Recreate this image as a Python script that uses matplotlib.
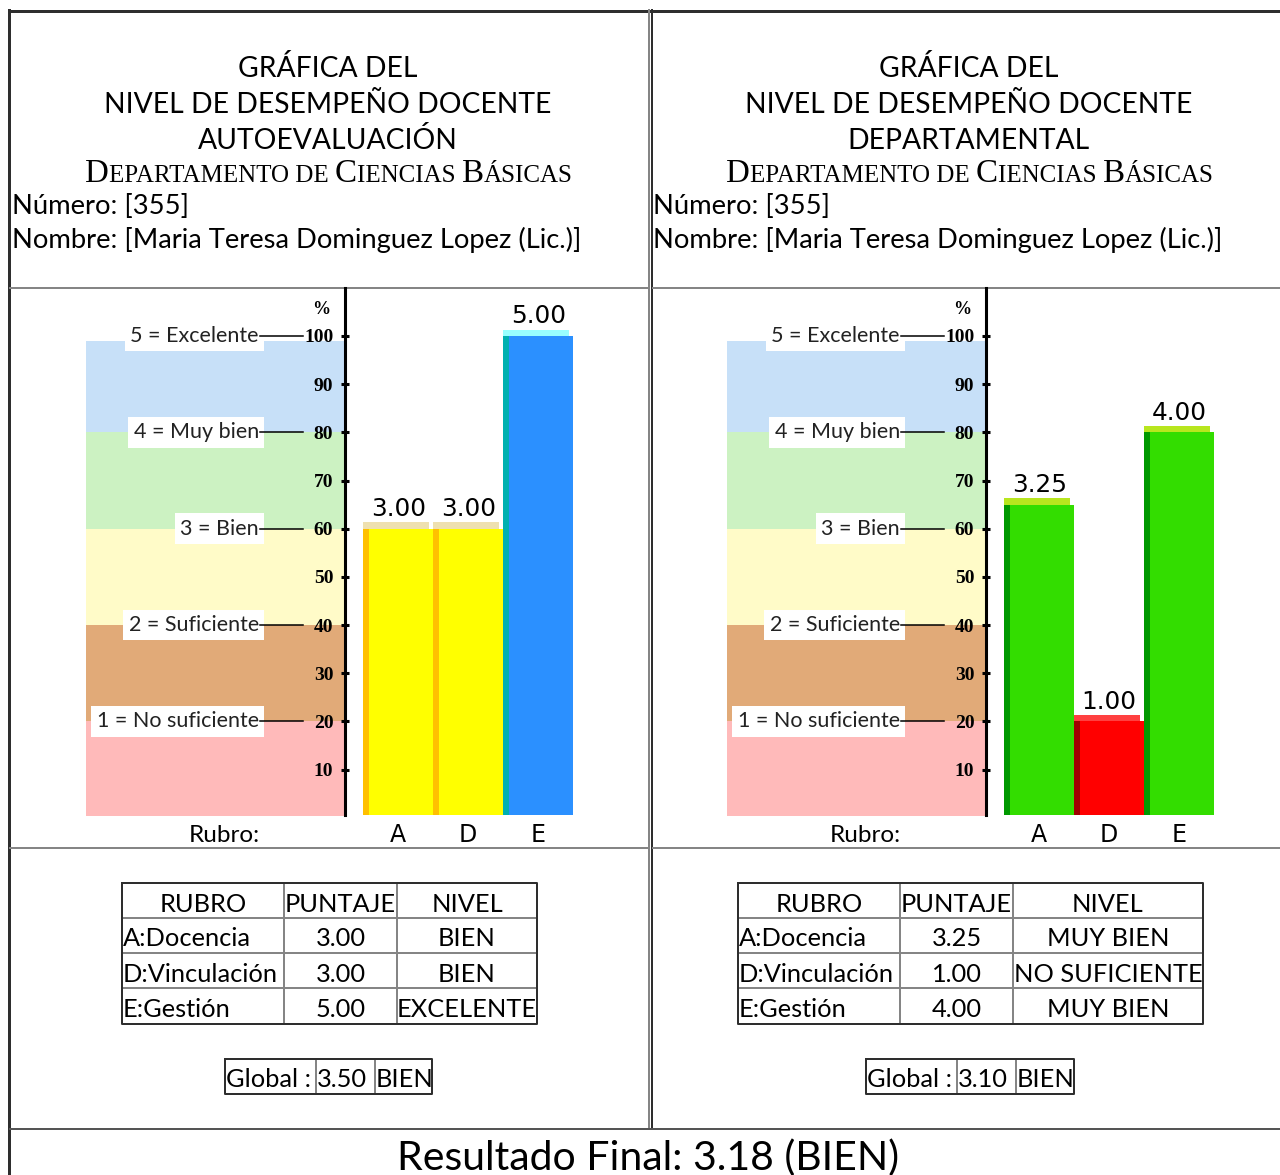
import matplotlib.pyplot as plt
import numpy as np

W, H = 1280, 1175

# --- data ---
rubros = ['A', 'D', 'E']
rubro_names = ['A:Docencia', 'D:Vinculación', 'E:Gestión']
auto_scores = [3.00, 3.00, 5.00]
auto_levels = ['BIEN', 'BIEN', 'EXCELENTE']
dept_scores = [3.25, 1.00, 4.00]
dept_levels = ['MUY BIEN', 'NO SUFICIENTE', 'MUY BIEN']
auto_global = [3.50, 'BIEN']
dept_global = [3.10, 'BIEN']
final_score = 3.18
final_level = 'BIEN'

scale_labels = ['1 = No suficiente', '2 = Suficiente', '3 = Bien',
                '4 = Muy bien', '5 = Excelente']
scale_pct = [20, 40, 60, 80, 100]
y_ticks = list(range(10, 101, 10))

numero = '355'
nombre = 'Maria Teresa Dominguez Lopez (Lic.)'
depto = 'Departamento de Ciencias Básicas'

# --- styles ---
band_colors = ['#ffbaba', '#e1aa78', '#fffbc8', '#ccf2c2', '#c7e0f8']
# face, side, top
bar_colors = {
    'NO SUFICIENTE': ('#ff0000', '#a00000', '#ff4040'),
    'SUFICIENTE': ('#e1aa78', '#b07a48', '#f0c8a0'),
    'BIEN': ('#ffff00', '#ffc000', '#eee0b0'),
    'MUY BIEN': ('#33dd00', '#009900', '#b8e61e'),
    'EXCELENTE': ('#2b90ff', '#00b0b0', '#99ffff'),
}
SANS = 'Lato'
DARK = '#2e2e2e'
GRAY = '#858585'


def lw(px):
    return px * 72 / 100


fig = plt.figure(figsize=(W / 100, H / 100), dpi=100)
bg = fig.add_axes([0, 0, 1, 1])
bg.set_xlim(0, W)
bg.set_ylim(H, 0)
bg.axis('off')
renderer = fig.canvas.get_renderer()

# page borders
bg.plot([9, W], [11, 11], color=DARK, lw=lw(3))
bg.plot([9, 9], [10, H], color=DARK, lw=lw(3))
bg.plot([649, 649], [10, 1129], color=GRAY, lw=lw(2))
bg.plot([652, 652], [10, 1129], color=DARK, lw=lw(2))
for yy in [288, 848]:
    bg.plot([10, 648], [yy, yy], color=GRAY, lw=lw(2))
    bg.plot([653, W], [yy, yy], color=GRAY, lw=lw(2))
bg.plot([10, W], [1129, 1129], color='#555555', lw=lw(2))


def small_caps(s, xc, y, big, small):
    parts = []
    for ch in s:
        size = big if ch.isupper() else small
        if parts and parts[-1][1] == size:
            parts[-1][0] += ch.upper()
        else:
            parts.append([ch.upper(), size])
    placed = []
    x = 0
    for txt, size in parts:
        t = bg.text(0, y, txt, fontsize=size, family='Liberation Serif',
                    va='baseline', ha='left')
        placed.append((t, x))
        x += t.get_window_extent(renderer).width
    for t, x0 in placed:
        t.set_x(xc - x / 2 + x0)


def draw_table(x_edges, y_edges, rows):
    x0, x1 = x_edges[0], x_edges[-1]
    y0, y1 = y_edges[0], y_edges[-1]
    for xx in x_edges[1:-1]:
        bg.plot([xx, xx], [y0, y1], color=GRAY, lw=lw(2))
    for yy in y_edges[1:-1]:
        bg.plot([x0, x1], [yy, yy], color=GRAY, lw=lw(2))
    bg.plot([x0, x1, x1, x0, x0], [y0, y0, y1, y1, y0], color=DARK, lw=lw(2))
    for r, row in enumerate(rows):
        base = (y_edges[r] + y_edges[r + 1]) / 2 + 11
        for c, txt in enumerate(row):
            if c == 0 and r > 0:
                bg.text(x_edges[0] + 1, base, txt, ha='left', va='baseline',
                        fontsize=18.3, family=SANS)
            else:
                bg.text((x_edges[c] + x_edges[c + 1]) / 2, base, txt,
                        ha='center', va='baseline', fontsize=18.3, family=SANS)


def draw_chart(dx, scores, levels):
    ax = fig.add_axes([(86 + dx) / W, (H - 815) / H, 489.3 / W, 527 / H])
    ax.set_xlim(-4.46, 2.53)
    ax.set_ylim(0.6, 109.94)
    ax.patch.set_alpha(0)
    spine_x = -0.757
    for i, c in enumerate(band_colors):
        top = 20 * (i + 1) if i < 4 else 99
        ax.fill_between([-4.46, spine_x], 20 * i, top, color=c, lw=0, zorder=0)
    for lab, p in zip(scale_labels, scale_pct):
        ax.text(-1.99, p, lab, ha='right', va='center', fontsize=15.5, family=SANS,
                color='#222222', zorder=3,
                bbox=dict(fc='white', ec='none', boxstyle='square,pad=0.25'))
        ax.plot([-1.97, -1.36], [p, p], color='black', lw=1.1, zorder=3)
    for s in ['top', 'right', 'bottom']:
        ax.spines[s].set_visible(False)
    ax.spines['left'].set_position(('data', spine_x))
    ax.spines['left'].set_linewidth(2.2)
    ax.set_yticks(y_ticks)
    ax.tick_params(axis='y', direction='inout', length=6, width=2.2, pad=5.6,
                   labelsize=14)
    for t in ax.get_yticklabels():
        t.set_fontfamily('Liberation Serif')
        t.set_fontweight('bold')
    ax.set_xticks([])
    ax.text(-1.1, 105.4, '%', ha='center', va='center', fontsize=13,
            family='Liberation Serif', fontweight='bold')

    x = np.arange(len(scores))
    pct = np.array(scores) * 20
    face = [bar_colors[l][0] for l in levels]
    side = [bar_colors[l][1] for l in levels]
    top = [bar_colors[l][2] for l in levels]
    ax.bar(x, pct, width=1.0, color=face, zorder=2)
    ax.bar(x - 0.5 + 0.043, pct, width=0.086, color=side, zorder=2.1)
    ax.bar(x - 0.03, 1.3, bottom=pct, width=0.94, color=top, zorder=2.1)
    for xi, p, s in zip(x, pct, scores):
        ax.text(xi, p + 2.6, f'{s:.2f}', ha='center', va='baseline',
                fontsize=17.8, family='DejaVu Sans')
    for xi, r in zip(x, rubros):
        ax.text(xi, -4.98, r, ha='center', va='baseline', fontsize=17,
                family='DejaVu Sans', clip_on=False)
    ax.text(-2.486, -4.98, 'Rubro:', ha='center', va='baseline', fontsize=17.5,
            family=SANS, clip_on=False)


panels = [
    (0, 'AUTOEVALUACIÓN', auto_scores, auto_levels, auto_global,
     [122, 284, 397, 537], [225, 316, 375, 432]),
    (641, 'DEPARTAMENTAL', dept_scores, dept_levels, dept_global,
     [738, 900, 1013, 1203], [866, 957, 1016, 1074]),
]

for dx, sub, scores, levels, glob, tcols, gcols in panels:
    xc = 328 + dx
    for txt, base in [('GRÁFICA DEL', 77), ('NIVEL DE DESEMPEÑO DOCENTE', 113),
                      (sub, 149)]:
        bg.text(xc, base, txt, ha='center', va='baseline', fontsize=20.3, family=SANS)
    small_caps(depto, xc + 1, 182, 23.8, 18)
    bg.text(12 + dx, 214, f'Número: [{numero}]', ha='left', va='baseline',
            fontsize=19.7, family=SANS)
    bg.text(12 + dx, 248, f'Nombre: [{nombre}]', ha='left', va='baseline',
            fontsize=19.7, family=SANS)

    draw_chart(dx, scores, levels)

    rows = [['RUBRO', 'PUNTAJE', 'NIVEL']]
    rows += [[n, f'{s:.2f}', l] for n, s, l in zip(rubro_names, scores, levels)]
    draw_table(tcols, [883, 918, 953, 988, 1024], rows)

    g0, g3 = gcols[0], gcols[-1]
    for xx in gcols[1:-1]:
        bg.plot([xx, xx], [1059, 1094], color=GRAY, lw=lw(2))
    bg.plot([g0, g3, g3, g0, g0], [1059, 1059, 1094, 1094, 1059], color=DARK, lw=lw(2))
    for xx, txt in zip(gcols[:-1], ['Global :', f'{glob[0]:.2f}', glob[1]]):
        bg.text(xx + 1, 1087, txt, ha='left', va='baseline', fontsize=18.3, family=SANS)

bg.text(648, 1170, f'Resultado Final: {final_score:.2f} ({final_level})',
        ha='center', va='baseline', fontsize=29.5, family=SANS)

fig.savefig('out.png', dpi=100)
